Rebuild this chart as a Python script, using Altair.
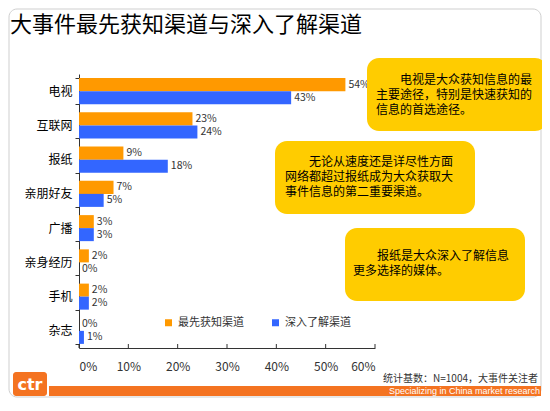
import altair as alt
import pandas as pd

categories = ["电视", "互联网", "报纸", "亲朋好友", "广播", "亲身经历", "手机", "杂志"]
first_known = [54, 23, 9, 7, 3, 2, 2, 0]
deep_known = [43, 24, 18, 5, 3, 0, 2, 1]
series = ["最先获知渠道", "深入了解渠道"]
colors = ["#FF9900", "#3366FF"]
x_ticks = [0, 10, 20, 30, 40, 50, 60]

title_text = "大事件最先获知渠道与深入了解渠道"
note1 = ["电视是大众获知信息的最", "主要途径，特别是快速获知的", "信息的首选途径。"]
note2 = ["无论从速度还是详尽性方面", "网络都超过报纸成为大众获取大", "事件信息的第二重要渠道。"]
note3 = ["报纸是大众深入了解信息", "更多选择的媒体。"]
footnote = "统计基数：N=1004，大事件关注者"
slogan = "Specializing in China market research"
logo = "ctr"

FONT = "Noto Sans CJK SC"

rows = []
for c, a, b in zip(categories, first_known, deep_known):
    rows.append({"cat": c, "series": series[0], "value": a})
    rows.append({"cat": c, "series": series[1], "value": b})
df = pd.DataFrame(rows)
df["label"] = df["value"].astype(str) + "%"
df_ticks = pd.DataFrame({"value": x_ticks})
one = pd.DataFrame({"k": [0]})

x_enc = alt.X(
    "value:Q",
    scale=alt.Scale(domain=[0, 60], nice=False),
    axis=alt.Axis(values=x_ticks, labelExpr="datum.value + '%'", title=None, grid=False,
                  ticks=False, domainColor="#333", labelFontSize=12, labelColor="#333",
                  labelPadding=13, labelFont=FONT),
)
y_enc = alt.Y(
    "cat:N", sort=categories,
    scale=alt.Scale(paddingInner=0.24, paddingOuter=0.12),
    axis=alt.Axis(title=None, tickBand="extent", tickSize=4, tickColor="#333",
                  domainColor="#333", labelFontSize=12, labelColor="#000",
                  labelPadding=3, labelFont=FONT),
)
yoff = alt.YOffset("series:N", sort=series, scale=alt.Scale(domain=series))

bars = alt.Chart(df).mark_bar().encode(
    x=x_enc, y=y_enc, yOffset=yoff,
    color=alt.Color("series:N", scale=alt.Scale(domain=series, range=colors),
                    legend=alt.Legend(title=None, orient="none", legendX=84, legendY=243,
                                      direction="horizontal", symbolType="square",
                                      symbolSize=49, labelFontSize=11, labelFont=FONT,
                                      labelColor="#333", columnPadding=26, padding=0,
                                      labelOffset=4, symbolStrokeWidth=0)),
)
labels = alt.Chart(df).mark_text(align="left", baseline="middle", dx=3, fontSize=10.5,
                                 color="#333", font=FONT).encode(
    x="value:Q", y=alt.Y("cat:N", sort=categories), yOffset=yoff, text="label:N"
)
ticks = alt.Chart(df_ticks).mark_rule(color="#333").encode(
    x="value:Q", y=alt.value(270), y2=alt.value(274)
)


def rect(x1, x2, y1, y2, **kw):
    return alt.Chart(one).mark_rect(**kw).encode(
        x=alt.value(x1), x2=alt.value(x2), y=alt.value(y1), y2=alt.value(y2))


def txt(text, x, y, font=FONT, **kw):
    return alt.Chart(one).mark_text(text=text, font=font, **kw).encode(
        x=alt.value(x), y=alt.value(y))


def note(lines, x, y):
    first = txt(lines[0], x + 24, y, align="left", baseline="top", fontSize=12, color="#000")
    rest = txt(lines[1:], x, y + 15, align="left", baseline="top", fontSize=12,
               lineHeight=15, color="#000")
    return [first, rest]


frame = rect(-70, 462, -65, 323, fillOpacity=0, stroke="#cfcfcf", strokeWidth=1, cornerRadius=8)
title = txt(title_text, -69, -49, align="left", baseline="middle", fontSize=22, color="#000")

box1 = rect(288, 468, -16, 57, color="#FFCC00", cornerRadius=12)
box2 = rect(196, 396, 67, 140, color="#FFCC00", cornerRadius=12)
box3 = rect(266, 446, 154, 227, color="#FFCC00", cornerRadius=12)
notes = note(note1, 297, 1) + note(note2, 206, 83) + note(note3, 274, 177)

foot = txt(footnote, 304, 305, align="left", baseline="middle", fontSize=10, color="#333")
band = rect(-30, 462, 312, 322, color="#F47321")
slog = txt(slogan, 310, 317, font="Liberation Sans", align="left", baseline="middle",
           fontSize=9, color="#fff")
logo_box = rect(-66, -32, 298, 322, color="#F47321", cornerRadius=3)
logo_t = txt(logo, -49, 311, font="DejaVu Sans", fontWeight="bold", fontSize=16,
             color="#fff", align="center", baseline="middle")

chart = alt.layer(
    frame, bars, labels, ticks, title, box1, box2, box3, *notes,
    foot, band, slog, logo_box, logo_t
).properties(
    width=296, height=274,
    autosize=alt.AutoSizeParams(type="none"),
    padding={"left": 71, "top": 66, "right": 167, "bottom": 50},
    background="white",
).configure_view(stroke=None)

chart.save("out.html", embed_options={"renderer": "svg", "actions": False})
